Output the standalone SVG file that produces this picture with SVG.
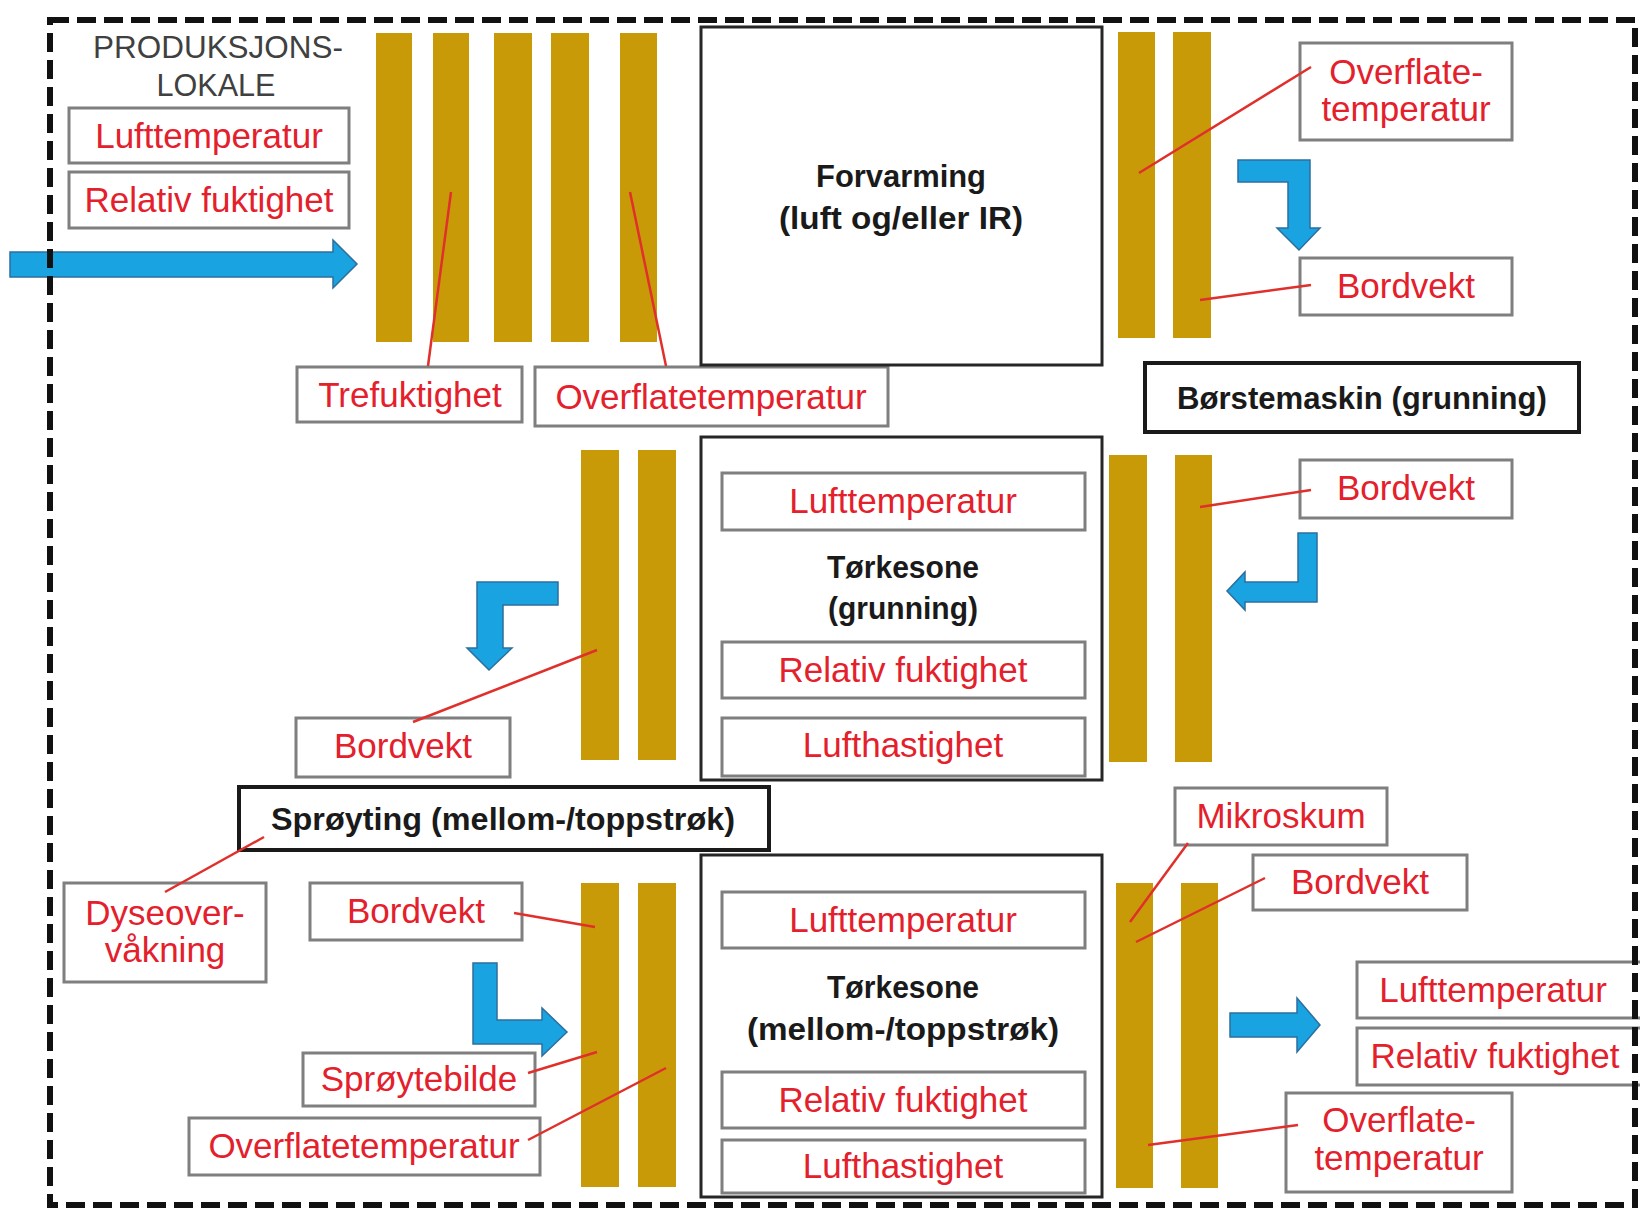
<svg xmlns="http://www.w3.org/2000/svg" width="1640" height="1210" viewBox="0 0 1640 1210">
<defs>
<style>
.bg{fill:#ffffff}
.bar{fill:#c99a08}
.lbl{fill:#ffffff;stroke:#7f7f7f;stroke-width:3}
.zone{fill:#ffffff;stroke:#262626;stroke-width:3}
.stage{fill:#ffffff;stroke:#1a1a1a;stroke-width:4}
.red{font-family:"Liberation Sans",Arial,sans-serif;font-size:35px;fill:#e3202b;text-anchor:middle}
.bold{font-family:"Liberation Sans",Arial,sans-serif;font-size:31px;font-weight:bold;fill:#1a1a1a;text-anchor:middle}
.room{font-family:"Liberation Sans",Arial,sans-serif;font-size:31px;fill:#404040;text-anchor:middle}
.lead{stroke:#e0302c;stroke-width:2.5;fill:none}
.flow{fill:#1aa3e1;stroke:#2c6f9e;stroke-width:1.5}
.border{fill:none;stroke:#111111;stroke-width:6;stroke-dasharray:19 8}
</style>
</defs>
<rect class="bg" x="0" y="0" width="1640" height="1210"/>

<g id="room-label">
<text class="room" x="218" y="58" textLength="250" lengthAdjust="spacingAndGlyphs">PRODUKSJONS-</text>
<text class="room" x="216" y="96" textLength="119" lengthAdjust="spacingAndGlyphs">LOKALE</text>
</g>

<g id="room-lufttemperatur"><rect class="lbl" x="69" y="108" width="280" height="55"/><text class="red" x="209" y="148">Lufttemperatur</text></g>
<g id="room-relativ-fuktighet"><rect class="lbl" x="69" y="172" width="280" height="56"/><text class="red" x="209" y="212">Relativ fuktighet</text></g>

<g id="bars-infeed">
<rect class="bar" x="376" y="33" width="36" height="309"/>
<rect class="bar" x="433" y="33" width="36" height="309"/>
<rect class="bar" x="494" y="33" width="38" height="309"/>
<rect class="bar" x="551" y="33" width="38" height="309"/>
<rect class="bar" x="620" y="33" width="37" height="309"/>
</g>
<g id="bars-after-preheat">
<rect class="bar" x="1118" y="32" width="37" height="306"/>
<rect class="bar" x="1173" y="32" width="38" height="306"/>
</g>
<g id="bars-before-primer-dry">
<rect class="bar" x="1109" y="455" width="38" height="307"/>
<rect class="bar" x="1175" y="455" width="37" height="307"/>
</g>
<g id="bars-after-primer-dry">
<rect class="bar" x="581" y="450" width="38" height="310"/>
<rect class="bar" x="638" y="450" width="38" height="310"/>
</g>
<g id="bars-after-spray">
<rect class="bar" x="581" y="883" width="38" height="304"/>
<rect class="bar" x="638" y="883" width="38" height="304"/>
</g>
<g id="bars-outfeed">
<rect class="bar" x="1116" y="883" width="37" height="305"/>
<rect class="bar" x="1181" y="883" width="37" height="305"/>
</g>

<g id="trefuktighet"><rect class="lbl" x="297" y="367" width="225" height="55"/><text class="red" x="410" y="407">Trefuktighet</text></g>
<g id="overflatetemperatur-infeed"><rect class="lbl" x="535" y="367" width="353" height="59"/><text class="red" x="711" y="409">Overflatetemperatur</text></g>

<g id="forvarming">
<rect class="zone" x="701" y="27" width="401" height="338"/>
<text class="bold" x="901" y="187" textLength="170" lengthAdjust="spacingAndGlyphs">Forvarming</text>
<text class="bold" x="901" y="229" textLength="244" lengthAdjust="spacingAndGlyphs">(luft og/eller IR)</text>
</g>

<g id="overflatetemperatur-preheat"><rect class="lbl" x="1300" y="43" width="212" height="97"/><text class="red" x="1406" y="84">Overflate-</text><text class="red" x="1406" y="121">temperatur</text></g>
<g id="bordvekt-preheat"><rect class="lbl" x="1300" y="258" width="212" height="57"/><text class="red" x="1406" y="298">Bordvekt</text></g>

<g id="borstemaskin"><rect class="stage" x="1145" y="363" width="434" height="69"/><text class="bold" x="1362" y="409" textLength="370" lengthAdjust="spacingAndGlyphs">Børstemaskin (grunning)</text></g>

<g id="bordvekt-primer"><rect class="lbl" x="1300" y="460" width="212" height="58"/><text class="red" x="1406" y="500">Bordvekt</text></g>

<g id="torkesone-grunning">
<rect class="zone" x="701" y="437" width="401" height="343"/>
<rect class="lbl" x="722" y="473" width="363" height="57"/><text class="red" x="903" y="513">Lufttemperatur</text>
<text class="bold" x="903" y="578" textLength="152" lengthAdjust="spacingAndGlyphs">Tørkesone</text>
<text class="bold" x="903" y="619" textLength="150" lengthAdjust="spacingAndGlyphs">(grunning)</text>
<rect class="lbl" x="722" y="642" width="363" height="56"/><text class="red" x="903" y="682">Relativ fuktighet</text>
<rect class="lbl" x="722" y="718" width="363" height="58"/><text class="red" x="903" y="757">Lufthastighet</text>
</g>

<g id="bordvekt-after-primer"><rect class="lbl" x="296" y="718" width="214" height="59"/><text class="red" x="403" y="758">Bordvekt</text></g>

<g id="sproyting"><rect class="stage" x="239" y="787" width="530" height="63"/><text class="bold" x="503" y="830" textLength="464" lengthAdjust="spacingAndGlyphs">Sprøyting (mellom-/toppstrøk)</text></g>

<g id="dyseovervakning"><rect class="lbl" x="64" y="883" width="202" height="99"/><text class="red" x="165" y="925">Dyseover-</text><text class="red" x="165" y="962">våkning</text></g>
<g id="bordvekt-spray"><rect class="lbl" x="310" y="883" width="212" height="57"/><text class="red" x="416" y="923">Bordvekt</text></g>
<g id="sproytebilde"><rect class="lbl" x="303" y="1053" width="232" height="53"/><text class="red" x="419" y="1091">Sprøytebilde</text></g>
<g id="overflatetemperatur-spray"><rect class="lbl" x="189" y="1118" width="351" height="57"/><text class="red" x="364" y="1158">Overflatetemperatur</text></g>

<g id="torkesone-mellom-topp">
<rect class="zone" x="701" y="855" width="401" height="342"/>
<rect class="lbl" x="722" y="892" width="363" height="56"/><text class="red" x="903" y="932">Lufttemperatur</text>
<text class="bold" x="903" y="998" textLength="152" lengthAdjust="spacingAndGlyphs">Tørkesone</text>
<text class="bold" x="903" y="1040" textLength="312" lengthAdjust="spacingAndGlyphs">(mellom-/toppstrøk)</text>
<rect class="lbl" x="722" y="1072" width="363" height="56"/><text class="red" x="903" y="1112">Relativ fuktighet</text>
<rect class="lbl" x="722" y="1140" width="363" height="53"/><text class="red" x="903" y="1178">Lufthastighet</text>
</g>

<g id="mikroskum"><rect class="lbl" x="1175" y="788" width="212" height="57"/><text class="red" x="1281" y="828">Mikroskum</text></g>
<g id="bordvekt-outfeed"><rect class="lbl" x="1253" y="855" width="214" height="55"/><text class="red" x="1360" y="894">Bordvekt</text></g>
<g id="outfeed-lufttemperatur"><rect class="lbl" x="1357" y="962" width="290" height="56"/><text class="red" x="1493" y="1002">Lufttemperatur</text></g>
<g id="outfeed-relativ-fuktighet"><rect class="lbl" x="1357" y="1028" width="290" height="57"/><text class="red" x="1495" y="1068">Relativ fuktighet</text></g>
<g id="overflatetemperatur-outfeed"><rect class="lbl" x="1286" y="1093" width="226" height="99"/><text class="red" x="1399" y="1132">Overflate-</text><text class="red" x="1399" y="1170">temperatur</text></g>

<g id="connectors">
<line class="lead" x1="428" y1="366" x2="451" y2="192"/>
<line class="lead" x1="666" y1="366" x2="630" y2="192"/>
<line class="lead" x1="1311" y1="67" x2="1139" y2="173"/>
<line class="lead" x1="1311" y1="285" x2="1200" y2="300"/>
<line class="lead" x1="1311" y1="490" x2="1200" y2="507"/>
<line class="lead" x1="413" y1="722" x2="597" y2="650"/>
<line class="lead" x1="165" y1="892" x2="264" y2="837"/>
<line class="lead" x1="514" y1="913" x2="595" y2="927"/>
<line class="lead" x1="528" y1="1073" x2="597" y2="1052"/>
<line class="lead" x1="528" y1="1140" x2="666" y2="1068"/>
<line class="lead" x1="1188" y1="843" x2="1130" y2="922"/>
<line class="lead" x1="1265" y1="878" x2="1136" y2="942"/>
<line class="lead" x1="1298" y1="1125" x2="1148" y2="1145"/>
<path class="flow" d="M10,252 H333 V240 L357,264 L333,288 V277 H10 Z"/>
<path class="flow" d="M1238,160 H1310 V228 H1320 L1299,250 L1277,228 H1288 V182 H1238 Z"/>
<path class="flow" d="M1298,533 H1317 V602 H1245 V610 L1227,591 L1245,572 V582 H1298 Z"/>
<path class="flow" d="M558,582 V605 H503 V648 H512 L489,670 L467,648 H477 V582 Z"/>
<path class="flow" d="M473,963 H497 V1020 H542 V1008 L567,1032 L542,1056 V1044 H473 Z"/>
<path class="flow" d="M1230,1013 H1297 V998 L1320,1025 L1297,1052 V1037 H1230 Z"/>
</g>

<rect id="room-border" class="border" x="50" y="20" width="1585" height="1185"/>
</svg>
